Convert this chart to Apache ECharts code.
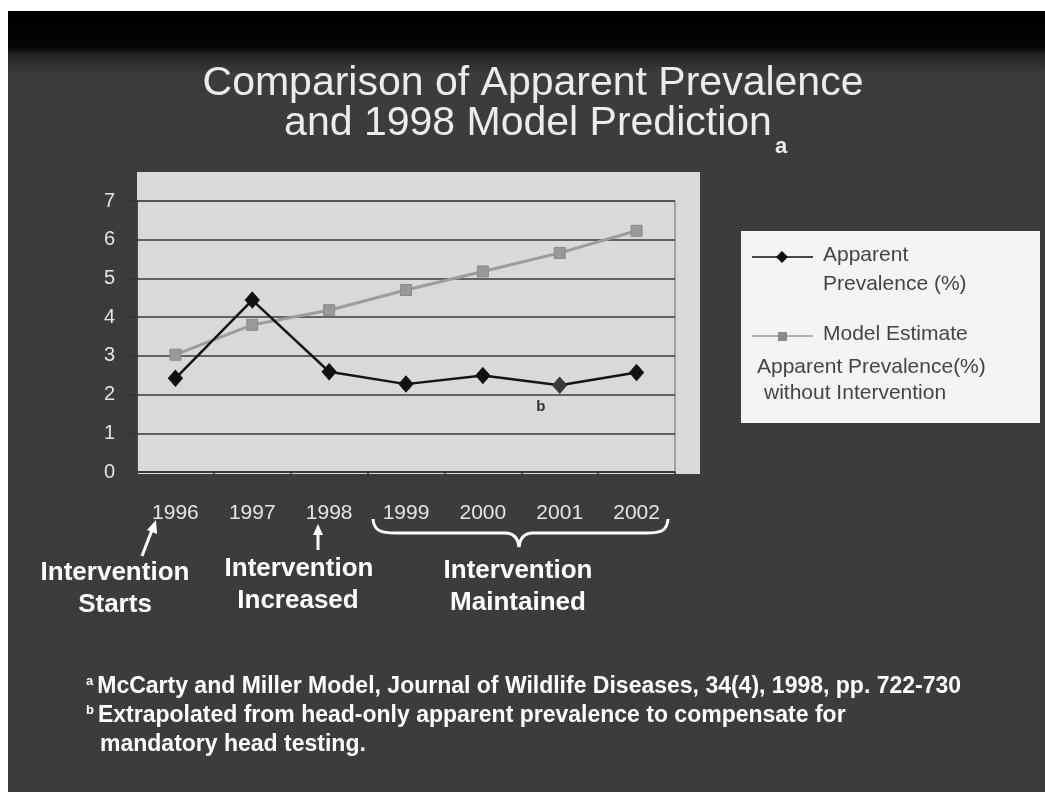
<!DOCTYPE html>
<html>
<head>
<meta charset="utf-8">
<script src="https://cdn.jsdelivr.net/npm/echarts@6/dist/echarts.min.js"></script>
<style>
html,body{margin:0;padding:0;background:#3c3c3c;}
#chart{width:1045px;height:792px;}
</style>
</head>
<body>
<div id="chart"></div>
<script>
// ---- data ----
var years = ['1996', '1997', '1998', '1999', '2000', '2001', '2002'];
var apparentPrevalence = [2.42, 4.44, 2.59, 2.27, 2.49, 2.24, 2.57];
var modelEstimate = [3.03, 3.80, 4.18, 4.70, 5.18, 5.66, 6.23];
var yTicks = [0, 1, 2, 3, 4, 5, 6, 7];
var extrapolatedYear = '2001';

var titleLine1 = 'Comparison of Apparent Prevalence';
var titleLine2 = 'and 1998 Model Prediction';
var legendApparent = ['Apparent', 'Prevalence (%)'];
var legendModel = ['Model Estimate', 'Apparent Prevalence(%)', 'without Intervention'];
var footA = 'McCarty and Miller Model, Journal of Wildlife Diseases, 34(4), 1998, pp. 722-730';
var footB1 = 'Extrapolated from head-only apparent prevalence to compensate for';
var footB2 = 'mandatory head testing.';

var chart = echarts.init(document.getElementById('chart'), null, {renderer: 'canvas'});

var FONT = '"Liberation Sans", Arial, sans-serif';

var apparentData = apparentPrevalence.map(function (v, i) {
  if (years[i] === extrapolatedYear) {
    return {
      value: v,
      itemStyle: {color: '#3a3a3a', borderColor: '#3a3a3a'},
      label: {show: true, formatter: 'b', position: 'bottom', offset: [-19, 1],
        fontSize: 15, fontWeight: 'bold', color: '#333', fontFamily: FONT}
    };
  }
  return v;
});

function txt(x, y, text, size, color, weight, align) {
  return {type: 'text', x: x, y: y, z: 5,
    style: {text: text, fill: color, font: (weight || 'normal') + ' ' + size + 'px ' + FONT,
      textAlign: align || 'center', textVerticalAlign: 'middle'}};
}

var white = '#f4f4f4';
var supRich = {s: {fontSize: 13, fontWeight: 'bold', fill: '#fff', fontFamily: FONT, verticalAlign: 'top', padding: [0, 4, 11, 0]}};
var graphics = [
  // white border strips
  {type: 'rect', shape: {x: 0, y: 0, width: 1045, height: 11}, style: {fill: '#ffffff'}, z: 0},
  {type: 'rect', shape: {x: 0, y: 0, width: 8, height: 792}, style: {fill: '#ffffff'}, z: 0},
  // dark top band
  {type: 'rect', shape: {x: 8, y: 11, width: 1037, height: 62}, z: 0,
    style: {fill: new echarts.graphic.LinearGradient(0, 0, 0, 1, [
      {offset: 0, color: '#000000'}, {offset: 0.58, color: '#050505'},
      {offset: 0.72, color: '#262626'}, {offset: 1, color: '#3a3a3a'}])}},
  // chart panel
  {type: 'rect', shape: {x: 137, y: 172, width: 563, height: 302}, style: {fill: '#d9d9d9'}, z: 0},
  // title
  {type: 'text', x: 533, y: 84, z: 5,
    style: {text: titleLine1, fill: '#ececec', font: 'normal 41px ' + FONT,
      textAlign: 'center', textVerticalAlign: 'middle', shadowColor: 'rgba(0,0,0,0.6)', shadowBlur: 2, shadowOffsetX: 1, shadowOffsetY: 1}},
  {type: 'text', x: 528, y: 124, z: 5,
    style: {text: titleLine2, fill: '#ececec', font: 'normal 41px ' + FONT,
      textAlign: 'center', textVerticalAlign: 'middle', shadowColor: 'rgba(0,0,0,0.6)', shadowBlur: 2, shadowOffsetX: 1, shadowOffsetY: 1}},
  {type: 'text', x: 775, y: 147, z: 5,
    style: {text: 'a', fill: '#ececec', font: 'bold 22px ' + FONT, textAlign: 'left', textVerticalAlign: 'middle'}},
  // legend box
  {type: 'rect', shape: {x: 741, y: 231, width: 299, height: 192}, style: {fill: white}, z: 0},
  {type: 'line', shape: {x1: 752, y1: 257, x2: 813, y2: 257}, style: {stroke: '#111', lineWidth: 1.5}, z: 5},
  {type: 'polygon', shape: {points: [[782, 251], [788, 257], [782, 263], [776, 257]]}, style: {fill: '#111'}, z: 6},
  txt(823, 255, legendApparent[0], 21, '#444', 'normal', 'left'),
  txt(823, 284, legendApparent[1], 21, '#444', 'normal', 'left'),
  {type: 'line', shape: {x1: 752, y1: 336, x2: 813, y2: 336}, style: {stroke: '#999', lineWidth: 1.5}, z: 5},
  {type: 'rect', shape: {x: 778, y: 332, width: 9, height: 9}, style: {fill: '#8c8c8c'}, z: 6},
  txt(823, 334, legendModel[0], 21, '#444', 'normal', 'left'),
  txt(757, 367, legendModel[1], 21, '#444', 'normal', 'left'),
  txt(764, 393, legendModel[2], 21, '#444', 'normal', 'left'),
  // arrows
  {type: 'line', shape: {x1: 142, y1: 556, x2: 152, y2: 530}, style: {stroke: '#fff', lineWidth: 3}, z: 5},
  {type: 'polygon', shape: {points: [[156, 520], [157, 534], [147, 530]]}, style: {fill: '#fff'}, z: 5},
  {type: 'line', shape: {x1: 318, y1: 550, x2: 318, y2: 533}, style: {stroke: '#fff', lineWidth: 3}, z: 5},
  {type: 'polygon', shape: {points: [[318, 524], [323, 535], [313, 535]]}, style: {fill: '#fff'}, z: 5},
  // brace
  {type: 'bezierCurve', shape: {x1: 373, y1: 519, cpx1: 374, cpy1: 531, cpx2: 381, cpy2: 533, x2: 396, y2: 533}, style: {stroke: '#fff', lineWidth: 3, fill: null}, z: 5},
  {type: 'line', shape: {x1: 396, y1: 533, x2: 505, y2: 533}, style: {stroke: '#fff', lineWidth: 3}, z: 5},
  {type: 'bezierCurve', shape: {x1: 505, y1: 533, cpx1: 514, cpy1: 533, cpx2: 518, cpy2: 538, x2: 519, y2: 547}, style: {stroke: '#fff', lineWidth: 3, fill: null}, z: 5},
  {type: 'bezierCurve', shape: {x1: 519, y1: 547, cpx1: 520, cpy1: 538, cpx2: 524, cpy2: 533, x2: 533, y2: 533}, style: {stroke: '#fff', lineWidth: 3, fill: null}, z: 5},
  {type: 'line', shape: {x1: 533, y1: 533, x2: 646, y2: 533}, style: {stroke: '#fff', lineWidth: 3}, z: 5},
  {type: 'bezierCurve', shape: {x1: 646, y1: 533, cpx1: 661, cpy1: 533, cpx2: 667, cpy2: 531, x2: 668, y2: 519}, style: {stroke: '#fff', lineWidth: 3, fill: null}, z: 5},
  // annotation texts
  txt(115, 573, 'Intervention', 26, '#ffffff', 'bold'),
  txt(115, 605, 'Starts', 26, '#ffffff', 'bold'),
  txt(299, 569, 'Intervention', 26, '#ffffff', 'bold'),
  txt(298, 601, 'Increased', 26, '#ffffff', 'bold'),
  txt(518, 571, 'Intervention', 26, '#ffffff', 'bold'),
  txt(518, 603, 'Maintained', 26, '#ffffff', 'bold'),
  // footnotes
  {type: 'text', x: 86, y: 687, z: 5,
    style: {text: '{s|a}' + footA, textAlign: 'left', textVerticalAlign: 'middle', rich: supRich,
      fill: '#ffffff', font: 'bold 23px ' + FONT}},
  {type: 'text', x: 86, y: 716, z: 5,
    style: {text: '{s|b}' + footB1, textAlign: 'left', textVerticalAlign: 'middle', rich: supRich,
      fill: '#ffffff', font: 'bold 23px ' + FONT}},
  txt(100, 745, footB2, 23, '#ffffff', 'bold', 'left')
];

var option = {
  backgroundColor: '#3c3c3c',
  animation: false,
  graphic: {elements: graphics},
  grid: {left: 137, top: 201, width: 538, height: 271, show: true, z: 1,
    borderColor: '#6a6a6a', borderWidth: 1, backgroundColor: 'transparent'},
  xAxis: {
    type: 'category', data: years, boundaryGap: true, z: 1,
    axisLine: {show: true, lineStyle: {color: '#333', width: 1.5}},
    axisTick: {show: true, length: 5, lineStyle: {color: '#333', width: 1.5}},
    axisLabel: {margin: 31, color: '#e4e4e4', fontSize: 21, fontFamily: FONT},
    splitLine: {show: false}
  },
  yAxis: {
    type: 'value', min: yTicks[0], max: yTicks[yTicks.length - 1], interval: 1, z: 1,
    axisLine: {show: true, lineStyle: {color: '#333', width: 1.5}},
    axisTick: {show: true, length: 8, lineStyle: {color: '#333', width: 1.5}},
    axisLabel: {margin: 22, color: '#e4e4e4', fontSize: 20, fontFamily: FONT},
    splitLine: {show: true, lineStyle: {color: '#3a3a3a', width: 1.5}}
  },
  series: [
    {
      name: 'Model Estimate Apparent Prevalence(%) without Intervention',
      type: 'line', data: modelEstimate, z: 3,
      symbol: 'rect', symbolSize: 11,
      lineStyle: {color: '#9c9c9c', width: 3},
      itemStyle: {color: '#999999', borderColor: '#8a8a8a', borderWidth: 1}
    },
    {
      name: 'Apparent Prevalence (%)',
      type: 'line', data: apparentData, z: 4,
      symbol: 'diamond', symbolSize: [14, 16],
      lineStyle: {color: '#151515', width: 2.5},
      itemStyle: {color: '#111111', borderColor: '#111111'}
    }
  ]
};
chart.setOption(option);
</script>
</body>
</html>
